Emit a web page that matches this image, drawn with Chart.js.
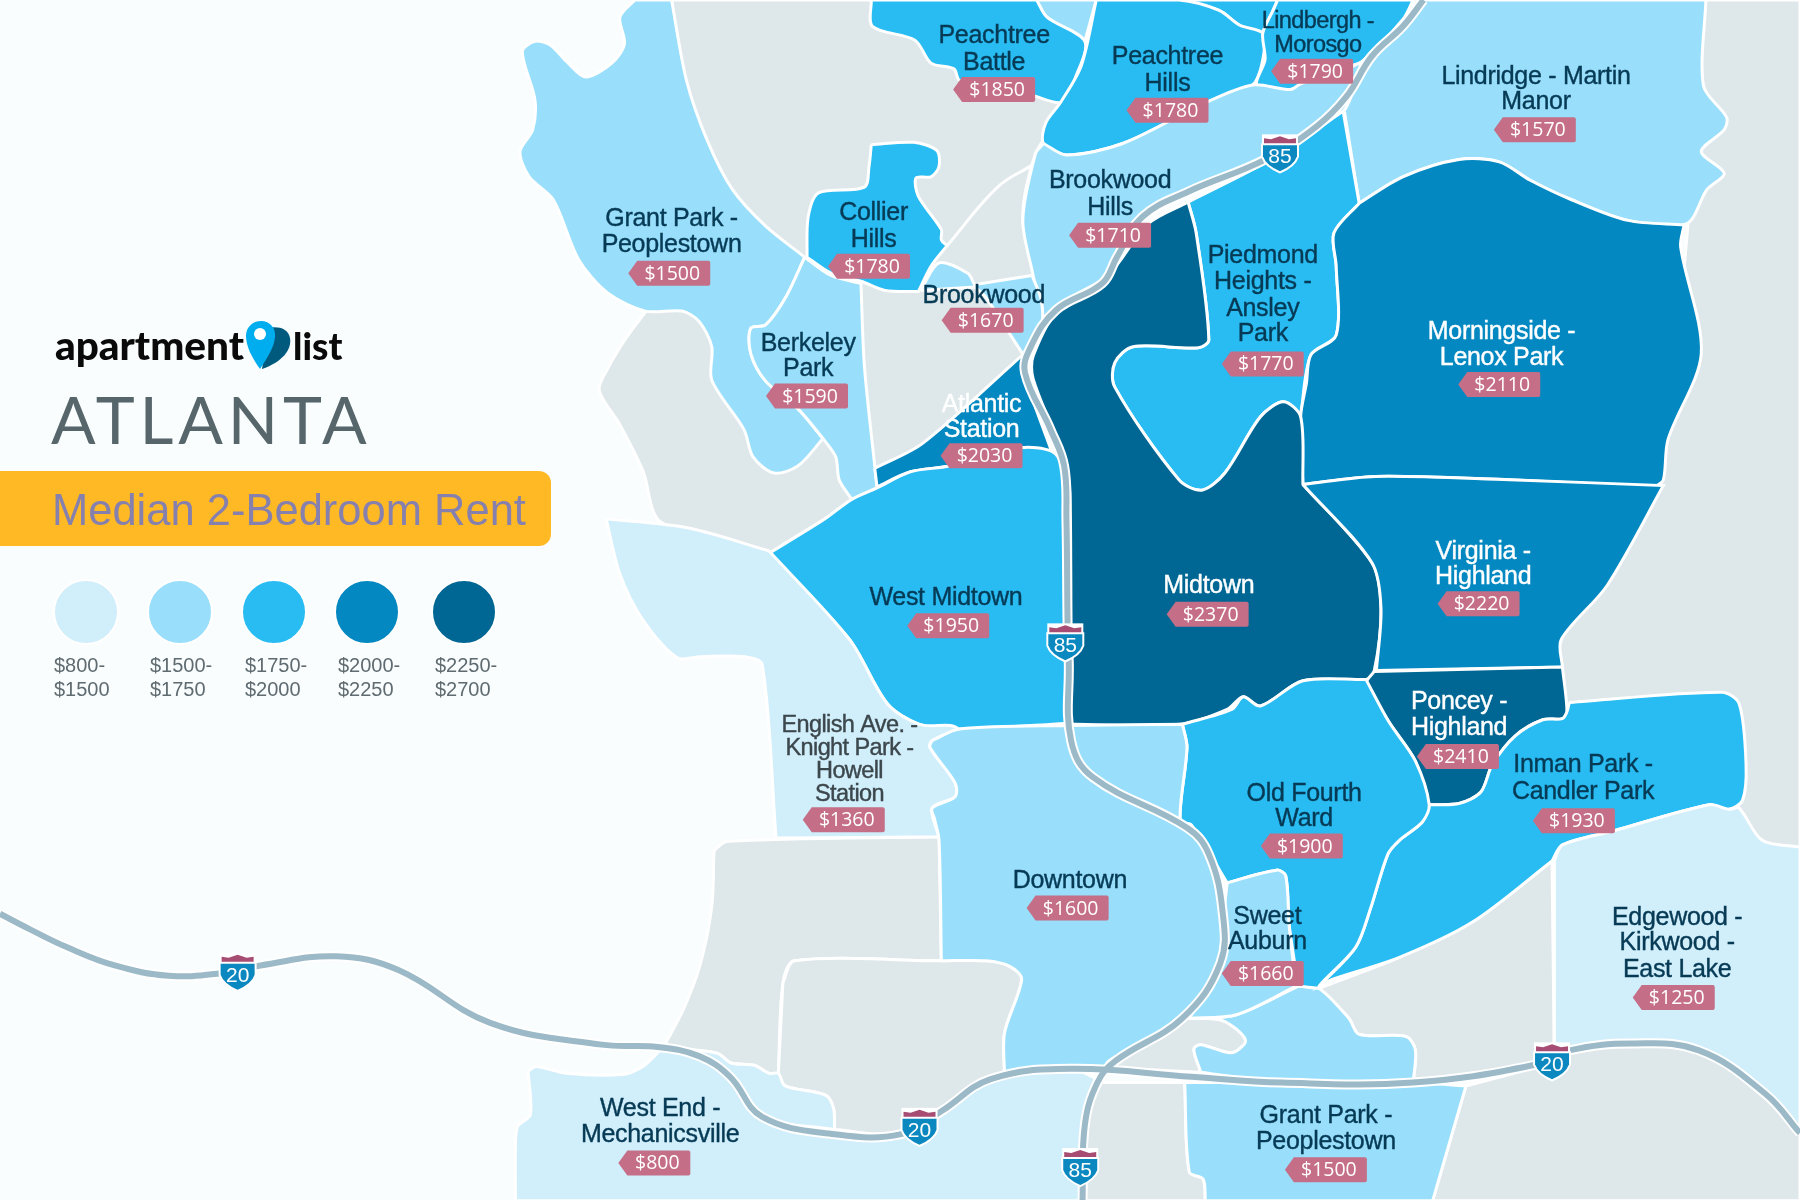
<!DOCTYPE html>
<html>
<head>
<meta charset="utf-8">
<title>Atlanta median 2-bedroom rent</title>
<style>
  html, body { margin: 0; padding: 0; background: #f9fdfe; }
  #wrap { width: 1800px; height: 1200px; }
</style>
<script src="https://cdn.jsdelivr.net/npm/chart.js@4/dist/chart.umd.min.js"></script>
</head>
<body>
<div id="wrap"><canvas id="map" width="1800" height="1200"></canvas></div>
<script>
// neighbourhoods
const hoodNames = ['Peachtree\nBattle', 'Peachtree\nHills', 'Lindbergh -\nMorosgo', 'Lindridge - Martin\nManor',
  'Grant Park -\nPeoplestown', 'Collier\nHills', 'Brookwood\nHills', 'Piedmond\nHeights -\nAnsley\nPark',
  'Morningside -\nLenox Park', 'Brookwood', 'Berkeley\nPark', 'Atlantic\nStation', 'West Midtown', 'Midtown',
  'Virginia -\nHighland', 'Poncey -\nHighland', 'Inman Park -\nCandler Park', 'English Ave. -\nKnight Park -\nHowell\nStation',
  'Old Fourth\nWard', 'Downtown', 'Sweet\nAuburn', 'Edgewood -\nKirkwood -\nEast Lake', 'West End -\nMechanicsville',
  'Grant Park -\nPeoplestown'];
const hoodRents = [1850, 1780, 1790, 1570, 1500, 1780, 1710, 1770, 2110, 1670, 1590, 2030, 1950, 2370,
  2220, 2410, 1930, 1360, 1900, 1600, 1660, 1250, 800, 1500];

// legend
const bandLimits = [800, 1500, 1750, 2000, 2250, 2700];
const bandColors = ['#d1eefb', '#99dffb', '#29bcf3', '#0388c1', '#006794'];
const bandLabels = [['$800-', '$1500'], ['$1500-', '$1750'], ['$1750-', '$2000'], ['$2000-', '$2250'], ['$2250-', '$2700']];

// outlines, in map units of a 1568 x 1045 sheet. a repeated point makes a sharp corner
const peachtreeBattle = [[759,0],[759,0],[903,0],[903,0],[912,15],[945,36],[937,67],[925,89],[899,83],[836,70],[831,60],[811,55],[797,35],[760,23],[759,0]];
const peachtreeHills = [[955,0],[955,0],[1027,0],[1062,9],[1080,22],[1100,29],[1100,52],[1091,74],[1049,90],[978,125],[929,135],[909,125],[911,107],[924,89],[942,57],[955,0]];
const lindbergh = [[1113,0],[1113,0],[1231,0],[1231,0],[1222,17],[1186,54],[1173,58],[1124,78],[1095,74],[1102,52],[1100,29],[1109,9],[1113,0]];
const lindridge = [[1240,0],[1240,0],[1486,0],[1486,0],[1484,75],[1504,102],[1502,113],[1482,132],[1502,151],[1487,165],[1469,195],[1418,192],[1369,174],[1333,157],[1306,141],[1271,139],[1222,154],[1184,177],[1184,177],[1171,96],[1171,96],[1191,49],[1222,26],[1240,0]];
const grantParkNorth = [[553,0],[540,15],[544,38],[533,55],[510,67],[495,55],[479,39],[466,36],[455,45],[466,87],[464,113],[453,132],[461,154],[482,174],[504,226],[529,255],[562,271],[594,271],[609,280],[620,302],[620,331],[648,374],[656,398],[674,412],[695,406],[717,382],[717,382],[695,356],[667,332],[654,308],[654,286],[667,283],[685,258],[701,224],[701,224],[667,197],[638,165],[616,122],[598,70],[585,0],[585,0],[553,0]];
const collierHills = [[759,126],[796,124],[816,131],[818,145],[811,154],[798,155],[800,171],[820,200],[820,209],[825,214],[825,214],[811,232],[800,254],[800,254],[771,253],[750,245],[724,238],[703,224],[703,224],[704,189],[713,168],[753,163],[757,145],[759,126]];
const brookwoodHills = [[909,125],[929,135],[978,125],[1049,90],[1091,74],[1124,78],[1133,73],[1173,60],[1186,54],[1186,54],[1171,96],[1133,122],[1093,142],[1035,171],[995,192],[964,241],[929,267],[904,287],[904,287],[904,261],[900,240],[891,192],[902,134],[909,125]];
const piedmontHeights = [[1035,176],[1035,176],[1102,142],[1133,122],[1170,97],[1170,97],[1184,177],[1184,177],[1162,203],[1164,232],[1164,292],[1142,309],[1133,363],[1133,363],[1118,350],[1098,363],[1067,412],[1047,427],[1027,418],[971,337],[971,316],[987,302],[1044,303],[1053,296],[1042,203],[1035,176]];
const morningside = [[1184,177],[1222,154],[1271,139],[1306,141],[1333,157],[1369,174],[1418,192],[1467,196],[1467,196],[1464,215],[1482,308],[1453,383],[1449,418],[1442,424],[1442,424],[1315,418],[1198,415],[1135,422],[1135,422],[1133,363],[1138,334],[1142,309],[1164,292],[1164,232],[1162,203],[1184,177]];
const brookwood = [[802,253],[818,229],[843,238],[849,248],[849,248],[899,240],[899,240],[907,261],[907,285],[892,310],[892,310],[881,293],[858,258],[849,250],[849,250],[802,253]];
const berkeleyPark = [[701,224],[724,240],[750,247],[750,247],[753,319],[762,406],[764,425],[764,425],[742,435],[742,435],[731,418],[728,398],[717,382],[717,382],[695,356],[667,332],[654,308],[654,286],[667,283],[685,258],[701,224]];
const atlanticStation = [[762,408],[762,408],[804,386],[892,308],[892,308],[892,325],[916,393],[916,393],[889,390],[827,406],[793,411],[764,424],[764,424],[762,408]];
const westMidtown = [[670,482],[670,482],[717,453],[742,435],[764,425],[793,411],[827,406],[889,390],[916,393],[926,406],[932,435],[932,630],[932,630],[836,635],[801,631],[773,613],[740,557],[670,482]];
const midtown = [[1035,176],[1035,176],[1042,203],[1053,296],[1044,303],[987,302],[971,316],[971,337],[1027,418],[1047,427],[1067,412],[1098,363],[1118,350],[1133,363],[1135,422],[1135,422],[1195,490],[1203,530],[1197,585],[1190,592],[1135,593],[1098,615],[1083,607],[1069,618],[1028,631],[937,631],[932,630],[932,630],[932,430],[925,395],[900,330],[900,310],[925,265],[965,240],[1000,195],[1035,176]];
const virginiaHighland = [[1135,422],[1135,422],[1198,415],[1315,418],[1449,423],[1449,423],[1400,510],[1360,557],[1361,581],[1361,581],[1199,584],[1199,584],[1203,530],[1195,490],[1135,422]];
const ponceyHighland = [[1197,585],[1197,585],[1361,581],[1361,581],[1365,620],[1361,626],[1344,627],[1320,641],[1300,666],[1290,690],[1271,700],[1245,701],[1245,701],[1233,663],[1210,629],[1190,596],[1197,585]];
const inmanPark = [[1367,612],[1367,612],[1500,603],[1515,613],[1521,666],[1518,697],[1506,705],[1489,701],[1405,724],[1361,736],[1352,750],[1352,750],[1283,803],[1219,834],[1161,853],[1149,859],[1149,859],[1181,825],[1194,791],[1209,744],[1219,732],[1239,716],[1245,701],[1245,701],[1271,700],[1290,690],[1300,666],[1320,641],[1344,627],[1361,626],[1365,620],[1367,612]];
const englishAve = [[528,452],[528,452],[600,460],[670,480],[670,480],[740,557],[773,613],[801,631],[828,632],[834,635],[812,645],[810,651],[832,682],[832,694],[812,704],[818,729],[818,729],[676,730],[676,730],[664,579],[649,572],[610,572],[590,573],[560,540],[540,500],[528,452]];
const oldFourthWard = [[1030,631],[1073,618],[1083,607],[1098,615],[1135,593],[1190,592],[1190,592],[1210,629],[1233,663],[1245,701],[1239,716],[1219,732],[1209,744],[1194,791],[1181,825],[1149,859],[1151,861],[1131,859],[1131,859],[1123,806],[1120,763],[1112,758],[1069,769],[1069,769],[1038,719],[1028,715],[1034,651],[1030,631]];
const downtown = [[812,645],[836,635],[933,632],[1030,631],[1030,631],[1034,651],[1028,715],[1038,719],[1065,770],[1065,806],[1063,839],[1030,887],[966,924],[962,931],[962,931],[875,935],[875,935],[875,900],[890,853],[880,842],[859,837],[820,837],[820,837],[818,732],[814,713],[812,704],[832,694],[832,682],[810,651],[812,645]];
const sweetAuburn = [[1069,769],[1112,758],[1120,763],[1123,806],[1129,859],[1129,859],[1077,884],[1036,887],[1036,887],[1063,839],[1065,806],[1069,769]];
const edgewood = [[1354,750],[1361,736],[1405,724],[1489,701],[1506,705],[1515,704],[1535,732],[1568,738],[1568,738],[1568,987],[1568,987],[1538,953],[1480,915],[1422,909],[1367,915],[1354,925],[1354,925],[1354,750]];
const westEnd = [[460,933],[467,929],[493,935],[542,936],[560,929],[575,915],[575,915],[609,920],[636,938],[667,973],[727,988],[785,988],[820,968],[863,940],[933,931],[956,940],[956,940],[945,980],[943,1046],[943,1046],[449,1046],[449,1046],[449,999],[451,981],[462,971],[460,933]];
const grantParkSouth = [[1032,943],[1032,943],[1116,943],[1231,943],[1277,946],[1277,946],[1248,1046],[1248,1046],[1050,1046],[1050,1046],[1048,1027],[1036,1021],[1032,943]];

// parts of the map with no label of their own
const battleSliver = [[903,0],[903,0],[955,0],[955,0],[945,36],[945,36],[912,15],[903,0]];
const lindberghTop = [[1027,0],[1027,0],[1113,0],[1113,0],[1109,9],[1100,29],[1100,29],[1080,22],[1062,9],[1027,0]];
const auburnSouth = [[1131,859],[1149,861],[1175,887],[1184,901],[1225,903],[1233,915],[1231,943],[1231,943],[1116,943],[1046,934],[1046,934],[1040,914],[1046,910],[1073,917],[1085,906],[1065,889],[1034,887],[1034,887],[1077,884],[1131,859]];
const westEndNorth = [[610,915],[626,918],[637,926],[657,928],[670,935],[678,935],[684,946],[719,954],[726,965],[727,984],[727,984],[664,973],[636,938],[609,920],[610,915]];
const greyNorth = [[585,0],[585,0],[759,0],[759,0],[925,89],[902,134],[891,192],[907,261],[892,310],[764,425],[717,453],[670,482],[670,482],[576,455],[560,410],[540,370],[522,340],[530,320],[545,295],[562,272],[562,272],[600,200],[585,0]];
const greyEast = [[1480,0],[1480,0],[1568,0],[1568,0],[1568,740],[1568,740],[1535,732],[1515,704],[1480,650],[1480,650],[1365,650],[1365,650],[1360,557],[1440,430],[1470,200],[1480,0]];
const greySouthEast = [[1352,750],[1352,750],[1354,925],[1354,925],[1335,928],[1231,943],[1231,943],[1233,915],[1225,903],[1184,901],[1175,887],[1149,861],[1149,861],[1219,834],[1283,803],[1352,750]];
const greySouthCentre = [[1030,887],[1065,889],[1085,906],[1073,917],[1046,910],[1040,914],[1046,934],[1046,934],[966,930],[966,930],[1030,887]];
const greyBottom = [[956,943],[956,943],[1032,943],[1032,943],[1036,1021],[1048,1027],[1050,1046],[1050,1046],[943,1046],[943,1046],[945,980],[956,943]];
const greyFarSouth = [[1277,946],[1277,946],[1335,930],[1367,915],[1422,909],[1480,915],[1538,953],[1568,987],[1568,987],[1568,1046],[1568,1046],[1248,1046],[1248,1046],[1277,946]];
const greyBlockOne = [[622,741],[633,733],[818,729],[818,729],[820,837],[820,837],[692,837],[682,856],[678,935],[678,935],[670,935],[657,928],[637,926],[626,918],[610,915],[578,912],[578,912],[595,880],[610,840],[620,790],[622,741]];
const greyBlockTwo = [[682,856],[692,837],[820,837],[859,837],[880,842],[890,853],[875,900],[875,935],[875,935],[820,968],[785,988],[727,984],[727,984],[726,965],[719,954],[684,946],[678,935],[678,935],[682,856]];
const greySplit = [[825,214],[869,163],[899,144]];

// interstates
const i85Path = [[1240,0],[1222,23],[1195,49],[1173,84],[1147,110],[1102,139],[1035,167],[995,189],[973,224],[960,247],[920,270],[898,302],[893,325],[915,374],[927,406],[929,453],[930,545],[931,576],[933,645],[952,677],[1034,721],[1053,744],[1065,794],[1063,839],[1030,887],[972,924],[956,943],[945,980],[943,1046]];
const i20Path = [[0,796],[27,810],[58,825],[100,841],[147,850],[191,848],[227,841],[293,833],[347,845],[427,891],[524,910],[573,912],[609,920],[636,938],[664,973],[727,988],[785,988],[820,968],[863,940],[933,931],[1038,938],[1116,943],[1231,943],[1335,928],[1367,915],[1422,909],[1480,915],[1538,953],[1568,987]];
const shieldNumbers = ['85', '85', '85', '20', '20', '20'];

// where things sit on the sheet
const labelX = [866, 1017, 1148, 1338, 585, 761, 967, 1100, 1308, 857, 704, 855, 824, 1053, 1292, 1271, 1379, 740, 1136, 932, 1104, 1461, 575, 1155];
const labelY = [[31,54], [49,72], [18,39], [66,88], [190,213], [185,208], [157,180], [222,245,268,290], [288,311], [257], [299,321], [352,374], [520], [510], [480,502], [611,633], [666,689], [631,651,671,691], [691,713], [767], [798,820], [799,821,844], [965,988], [971,994]];
const tagX = [866, 1017, 1143, 1337, 583, 757, 967, 1100, 1306, 856, 703, 855, 826, 1052, 1288, 1270, 1371, 735, 1134, 930, 1100, 1458, 570, 1155];
const tagY = [78, 96, 62, 113, 238, 232, 205, 317, 335, 279, 345, 397, 545, 535, 526, 659, 715, 714, 737, 791, 848, 869, 1013, 1019];
const shieldX = [1115, 928, 941, 207, 801, 1352];
const shieldY = [134, 560, 1017, 847, 982, 925];

const GREY = '#dee7ea';
const bandOf = (rent) => {
  for (let i = bandColors.length - 1; i >= 0; i--) if (rent >= bandLimits[i]) return i;
  return 0;
};
const toPoints = (pts) => pts.map(([x, y]) => ({ x, y }));

const area = (pts, color) => ({
  data: toPoints(pts),
  showLine: true,
  fill: 'shape',
  tension: 0.3,
  backgroundColor: color,
  borderColor: '#ffffff',
  borderWidth: 3,
  pointRadius: 0,
});
const road = (pts, color, width) => ({
  data: toPoints(pts),
  showLine: true,
  fill: false,
  tension: 0.4,
  borderColor: color,
  borderWidth: width,
  pointRadius: 0,
});

const hoodOutlines = [peachtreeBattle, peachtreeHills, lindbergh, lindridge, grantParkNorth, collierHills, brookwoodHills,
  piedmontHeights, morningside, brookwood, berkeleyPark, atlanticStation, westMidtown, midtown, virginiaHighland,
  ponceyHighland, inmanPark, englishAve, oldFourthWard, downtown, sweetAuburn, edgewood, westEnd, grantParkSouth];

const layers = [
  area(greyNorth, GREY), area(greyEast, GREY), area(greySouthEast, GREY), area(greySouthCentre, GREY),
  area(greyBottom, GREY), area(greyFarSouth, GREY), area(greyBlockOne, GREY), area(greyBlockTwo, GREY),
  road(greySplit, '#ffffff', 3),
  area(battleSliver, bandColors[1]), area(lindberghTop, bandColors[2]), area(auburnSouth, bandColors[1]), area(westEndNorth, bandColors[0]),
  ...hoodOutlines.map((o, i) => area(o, bandColors[bandOf(hoodRents[i])])),
  road(i85Path, '#ffffff', 10), road(i20Path, '#ffffff', 10),
  road(i20Path, '#9bb9c7', 6), road(i85Path, '#9bb9c7', 6),
];
layers.forEach((d, i) => { d.order = layers.length - i; });

function drawShield(ctx, x, y, num) {
  const w = 34, h = 35, t = y - h / 2;
  const outline = () => {
    ctx.beginPath();
    ctx.moveTo(x - w / 2, t + 9);
    ctx.lineTo(x + w / 2, t + 9);
    ctx.lineTo(x + w / 2, t + 20);
    ctx.quadraticCurveTo(x + w / 2 - 3, t + h - 6, x, t + h);
    ctx.quadraticCurveTo(x - w / 2 + 3, t + h - 6, x - w / 2, t + 20);
    ctx.closePath();
  };
  outline();
  ctx.strokeStyle = '#ffffff';
  ctx.lineWidth = 4;
  ctx.stroke();
  ctx.fillStyle = '#ffffff';
  ctx.fillRect(x - w / 2 - 1, t - 2, w + 2, 11);
  ctx.fillStyle = '#a74c72';
  ctx.beginPath();
  ctx.moveTo(x - w / 2 + 1, t + 7);
  ctx.lineTo(x - w / 2 + 1, t + 2);
  ctx.lineTo(x - 9, t + 3);
  ctx.lineTo(x, t);
  ctx.lineTo(x + 9, t + 3);
  ctx.lineTo(x + w / 2 - 1, t + 2);
  ctx.lineTo(x + w / 2 - 1, t + 7);
  ctx.closePath();
  ctx.fill();
  outline();
  ctx.fillStyle = '#0a88bf';
  ctx.fill();
  ctx.fillStyle = '#ffffff';
  ctx.font = '21px "Liberation Sans"';
  ctx.textAlign = 'center';
  ctx.textBaseline = 'middle';
  ctx.fillText(num, x, t + 21);
}

function drawTag(ctx, cx, cy, rent) {
  const text = '$' + rent;
  const w = rent >= 1000 ? 82 : 72, h = 25, l = cx - w / 2, top = cy - h / 2;
  ctx.fillStyle = '#c46f87';
  ctx.beginPath();
  ctx.moveTo(l + 9, top);
  ctx.lineTo(l + w - 2, top);
  ctx.quadraticCurveTo(l + w, top, l + w, top + 2);
  ctx.lineTo(l + w, top + h - 2);
  ctx.quadraticCurveTo(l + w, top + h, l + w - 2, top + h);
  ctx.lineTo(l + 9, top + h);
  ctx.lineTo(l, cy);
  ctx.closePath();
  ctx.fill();
  ctx.fillStyle = '#ffffff';
  ctx.font = '19.5px "Open Sans"';
  ctx.textAlign = 'center';
  ctx.textBaseline = 'middle';
  ctx.fillText(text, cx + 3, cy + 1);
}

function drawLogo(ctx) {
  ctx.textAlign = 'left';
  ctx.textBaseline = 'alphabetic';
  ctx.fillStyle = '#0a0a0a';
  ctx.font = '900 40.5px Lato';
  ctx.fillText('apartment', 55, 360);
  ctx.font = '900 37px Lato';
  ctx.fillText('list', 293, 360);
  ctx.fillStyle = '#005a7d';
  ctx.beginPath();
  ctx.moveTo(262, 369);
  ctx.bezierCurveTo(282, 362, 292, 350, 290, 338);
  ctx.bezierCurveTo(288, 328, 278, 326, 268, 328);
  ctx.closePath();
  ctx.fill();
  ctx.fillStyle = '#00aeef';
  ctx.beginPath();
  ctx.moveTo(260, 369);
  ctx.bezierCurveTo(252, 358, 246, 346, 246, 336);
  ctx.bezierCurveTo(246, 327, 253, 321, 261, 321);
  ctx.bezierCurveTo(270, 321, 276, 328, 275, 337);
  ctx.bezierCurveTo(274, 348, 266, 360, 260, 369);
  ctx.closePath();
  ctx.fill();
  ctx.fillStyle = '#ffffff';
  ctx.beginPath();
  ctx.arc(260, 334, 6, 0, Math.PI * 2);
  ctx.fill();
}

function drawPanel(ctx) {
  drawLogo(ctx);
  ctx.fillStyle = '#56666b';
  ctx.font = '66px Lato';
  ctx.letterSpacing = '4.8px';
  ctx.textAlign = 'left';
  ctx.textBaseline = 'alphabetic';
  ctx.fillText('ATLANTA', 51, 444);
  ctx.letterSpacing = '0px';

  ctx.fillStyle = '#ffb925';
  ctx.beginPath();
  ctx.roundRect(-20, 471, 571, 75, 12);
  ctx.fill();
  ctx.fillStyle = '#8580ad';
  ctx.font = '43.5px "Liberation Sans"';
  ctx.fillText('Median 2-Bedroom Rent', 52, 525);

  const legendX = [86, 180, 274, 367, 464];
  const textX = [54, 150, 245, 338, 435];
  bandColors.forEach((c, i) => {
    ctx.fillStyle = c;
    ctx.strokeStyle = '#ffffff';
    ctx.lineWidth = 2;
    ctx.beginPath();
    ctx.arc(legendX[i], 612, 32, 0, Math.PI * 2);
    ctx.fill();
    ctx.stroke();
    ctx.fillStyle = '#5f6b70';
    ctx.font = '20px "Liberation Sans"';
    ctx.fillText(bandLabels[i][0], textX[i], 672);
    ctx.fillText(bandLabels[i][1], textX[i], 696);
  });
}

const mapText = {
  id: 'mapText',
  afterDatasetsDraw(chart) {
    const { ctx, scales: { x, y } } = chart;
    ctx.save();
    shieldNumbers.forEach((n, i) => drawShield(ctx, x.getPixelForValue(shieldX[i]), y.getPixelForValue(shieldY[i]), n));
    hoodNames.forEach((name, i) => {
      const band = bandOf(hoodRents[i]);
      const tight = name.startsWith('English') || name.startsWith('Lindbergh');
      const ink = band >= 3 ? '#ffffff' : (name.startsWith('English') ? '#3c474c' : '#063a55');
      ctx.fillStyle = ink;
      ctx.strokeStyle = ink;
      ctx.lineWidth = 0.4;
      ctx.font = (tight ? '23.5px' : '25px') + ' "Liberation Sans"';
      ctx.letterSpacing = tight ? '-0.6px' : '-0.3px';
      ctx.textAlign = 'center';
      ctx.textBaseline = 'middle';
      name.split('\n').forEach((line, j) => {
        const px = x.getPixelForValue(labelX[i]), py = y.getPixelForValue(labelY[i][j]) + 1;
        ctx.fillText(line, px, py);
        ctx.strokeText(line, px, py);
      });
      ctx.letterSpacing = '0px';
      drawTag(ctx, x.getPixelForValue(tagX[i]), y.getPixelForValue(tagY[i]), hoodRents[i]);
    });
    drawPanel(ctx);
    ctx.restore();
  },
};

new Chart(document.getElementById('map'), {
  type: 'scatter',
  data: { datasets: layers },
  options: {
    responsive: false,
    animation: false,
    events: [],
    layout: { padding: 0 },
    plugins: { legend: { display: false }, tooltip: { enabled: false } },
    scales: {
      x: { type: 'linear', min: 0, max: 1568, display: false },
      y: { type: 'linear', min: 0, max: 1045.33, reverse: true, display: false },
    },
  },
  plugins: [mapText],
});
</script>
</body>
</html>
